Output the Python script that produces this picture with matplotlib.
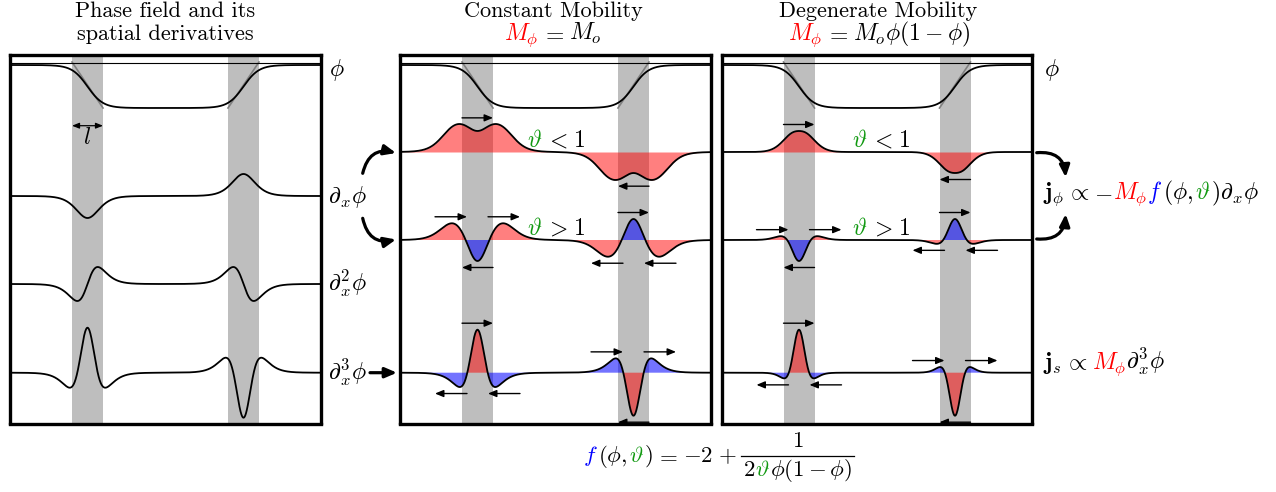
import numpy as np
import matplotlib
matplotlib.use('Agg')
import matplotlib.pyplot as plt
from matplotlib.patches import FancyArrowPatch

plt.rcParams['mathtext.fontset'] = 'cm'

# ---------------- data / model parameters ----------------
interface_centres = [77.5, 233.5]      # local panel units
half_width = 15.5                      # l/2
phi_levels = [53.0, 43.0]              # baseline of phi=0, height of phi=1
left_baselines = [141.0, 229.0, 317.7] # d_x phi, d_x^2 phi, d_x^3 phi
left_amps = [22.0, 17.0, 45.0]
flux_baselines = [97.0, 185.0, 317.7]  # theta<1, theta>1, j_s
flux_amps = [28.0, 21.0, 43.0]
theta_vals = [0.41, 1.55]
eps = 0.015
row_spans = [['band'], ['band', 'left', 'right'], ['band', 'left', 'right']]

W, H = 1276, 492
panel_x0 = [10.0, 400.0, 721.5]
panel_y0 = 55.0
PW, PH = 310.5, 368.5

RED, BLUE, GREEN = '#ff0000', '#0000ff', '#119911'
BAND = '#bebebe'
MS = 17  # math font size

fig = plt.figure(figsize=(W / 100, H / 100), dpi=100)

# ---------------- profiles ----------------
x = np.linspace(0, PW, 1500)
w = half_width
s1 = (x - interface_centres[0]) / w
s2 = (x - interface_centres[1]) / w
sech2 = lambda s: 1.0 / np.cosh(s) ** 2
phi = 1 - 0.5 * (1 + np.tanh(s1)) + 0.5 * (1 + np.tanh(s2))
d1 = (-sech2(s1) + sech2(s2)) / (2 * w)
d2 = (2 * sech2(s1) * np.tanh(s1) - 2 * sech2(s2) * np.tanh(s2)) / (2 * w ** 2)
d3 = (2 * sech2(s1) * (1 - 3 * np.tanh(s1) ** 2)
      - 2 * sech2(s2) * (1 - 3 * np.tanh(s2) ** 2)) / (2 * w ** 3)
pp = phi * (1 - phi)


def ffun(theta):
    return -2 + 1.0 / (2 * theta * (pp + eps))


const_flux = [-ffun(t) * d1 for t in theta_vals] + [d3]
scales = [a / np.abs(j).max() for a, j in zip(flux_amps, const_flux)]
mobility = [np.ones_like(x), 4 * pp]


def make_panel(x0):
    ax = fig.add_axes([x0 / W, 1 - (panel_y0 + PH) / H, PW / W, PH / H])
    ax.set_xlim(0, PW)
    ax.set_ylim(PH, 0)
    ax.set_xticks([])
    ax.set_yticks([])
    for sp in ax.spines.values():
        sp.set_linewidth(2.4)
        sp.set_zorder(6)
    for c in interface_centres:
        ax.axvspan(c - w, c + w, color=BAND, lw=0, zorder=0.5)
    ax.axhline(8.0, color='k', lw=0.8, zorder=3)
    y0, a = phi_levels
    ax.plot([interface_centres[0] - w, interface_centres[0] + w], [7.0, y0],
            color='#808080', lw=1.2, zorder=1)
    ax.plot([interface_centres[1] - w, interface_centres[1] + w], [y0, 7.0],
            color='#808080', lw=1.2, zorder=1)
    ax.plot(x, y0 - a * phi, color='k', lw=1.3, zorder=3)
    return ax


def small_arrow(ax, xa, xb, y):
    ax.annotate('', xy=(xb, y), xytext=(xa, y),
                arrowprops=dict(arrowstyle='-|>,head_length=0.36,head_width=0.15',
                                color='k', lw=1.0, shrinkA=0, shrinkB=0,
                                mutation_scale=14), zorder=4)


# left panel
axL = make_panel(panel_x0[0])
for base, amp, d in zip(left_baselines, left_amps, [d1, d2, d3]):
    axL.plot(x, base - amp * d / np.abs(d).max(), color='k', lw=1.3, zorder=3)
c0 = interface_centres[0]
axL.annotate('', xy=(c0 - w, 70.7), xytext=(c0 + w, 70.7),
             arrowprops=dict(arrowstyle='<|-|>,head_length=0.3,head_width=0.12',
                             color='k', lw=0.9, shrinkA=0, shrinkB=0,
                             mutation_scale=14))
axL.text(c0, 82, r'$l$', fontsize=MS, ha='center', va='center')

# flux panels
for pi in (1, 2):
    ax = make_panel(panel_x0[pi])
    M = mobility[pi - 1]
    for r in range(3):
        j = M * const_flux[r] * scales[r]
        base = flux_baselines[r]
        yc = base - j
        red = j * d1 < 0
        ax.fill_between(x, base, yc, where=red, interpolate=True,
                        color=RED, alpha=0.5, lw=0, zorder=2)
        ax.fill_between(x, base, yc, where=~red, interpolate=True,
                        color=BLUE, alpha=0.55, lw=0, zorder=2)
        ax.plot(x, yc, color='k', lw=1.3, zorder=3)
        for c in interface_centres:
            for kind in row_spans[r]:
                if kind == 'band':
                    xa, xb = c - w, c + w
                elif kind == 'left':
                    xa, xb = c - 42.5, c - 10.5
                else:
                    xa, xb = c + 10.5, c + 42.5
                jm = np.interp(0.5 * (xa + xb), x, j)
                sel = (x >= xa) & (x <= xb)
                if jm > 0:
                    small_arrow(ax, xa, xb, yc[sel].min() - 6.5)
                else:
                    small_arrow(ax, xb, xa, yc[sel].max() + 6.5)

# ---------------- overlay canvas for text / connectors ----------------
cv = fig.add_axes([0, 0, 1, 1])
cv.set_xlim(0, W)
cv.set_ylim(H, 0)
cv.axis('off')
cv.patch.set_visible(False)
renderer = fig.canvas.get_renderer()


def pieces(x0, y0, items, size=MS, ha='left', va='baseline'):
    # items: (mathtext, colour, gap after in px)
    cur = x0
    made = []
    for s, col, gap in items:
        t = cv.text(cur, y0, s, color=col, fontsize=size, ha='left', va=va)
        made.append(t)
        cur += t.get_window_extent(renderer).width + gap
    if ha == 'center':
        shift = (cur - x0) / 2
        for t in made:
            t.set_x(t.get_position()[0] - shift)
    return cur


tf = dict(fontsize=16, fontfamily='cmr10', ha='center', va='baseline')
cv.text(165, 17.3, 'Phase field and its', **tf)
cv.text(165, 40, 'spatial derivatives', **tf)
cv.text(553, 17.3, 'Constant Mobility', **tf)
cv.text(878, 17.3, 'Degenerate Mobility', **tf)
pieces(553, 40, [(r'$M_\phi$', RED, 2.5), (r'$=$', 'k', 5), (r'$M_o$', 'k', 0)],
       ha='center')
pieces(879, 40, [(r'$M_\phi$', RED, 2.5), (r'$=$', 'k', 5),
                 (r'$M_o\phi(1-\phi)$', 'k', 0)], ha='center')

# row labels
cv.text(329, 70, r'$\phi$', fontsize=MS, va='center')
cv.text(1044, 70, r'$\phi$', fontsize=MS, va='center')
cv.text(328, 197, r'$\partial_x\phi$', fontsize=MS, va='center')
cv.text(328, 283.5, r'$\partial_x^2\phi$', fontsize=MS, va='center')
cv.text(328, 372.5, r'$\partial_x^3\phi$', fontsize=MS, va='center')

for xs in (527, 852):
    pieces(xs, 147, [(r'$\vartheta$', GREEN, 3), (r'$<$', 'k', 5), (r'$1$', 'k', 0)])
    pieces(xs, 235, [(r'$\vartheta$', GREEN, 3), (r'$>$', 'k', 5), (r'$1$', 'k', 0)])

pieces(1043, 199, [(r'$\mathbf{j}_\phi$', 'k', 2), (r'$\propto$', 'k', 4),
                   (r'${-}$', 'k', 1), (r'$M_\phi$', RED, 0), (r'$f$', BLUE, 1),
                   (r'$(\phi,$', 'k', 2), (r'$\vartheta$', GREEN, 0),
                   (r'$)\partial_x\phi$', 'k', 0)])
pieces(1043, 369, [(r'$\mathbf{j}_s$', 'k', 2), (r'$\propto$', 'k', 5),
                   (r'$M_\phi$', RED, 0), (r'$\partial_x^3\phi$', 'k', 0)])

# bottom formula
BS = 16.5
xe = pieces(583, 462, [(r'$f$', BLUE, 0), (r'$(\phi,$', 'k', 2),
                       (r'$\vartheta$', GREEN, 0), (r'$)$', 'k', 2.5),
                       (r'$=$', 'k', 5), (r'${-}2$', 'k', 5), (r'$+$', 'k', 5)],
            size=BS)
bx0 = xe
bx1 = pieces(bx0 + 2, 476, [(r'$2$', 'k', 0), (r'$\vartheta$', GREEN, 0),
                             (r'$\phi(1-\phi)$', 'k', 0)], size=BS) + 2
cv.plot([bx0, bx1], [456, 456], color='k', lw=0.9)
pieces(0.5 * (bx0 + bx1), 447, [(r'$1$', 'k', 0)], size=BS, ha='center')

# connectors
big = dict(arrowstyle='-|>,head_length=0.35,head_width=0.15', color='k',
           lw=2.3, mutation_scale=20, shrinkA=0, shrinkB=0)
for p0, p1, rad in [((362.7, 173.3), (396, 153), -0.5),
                    ((362.7, 218.3), (396, 239.5), 0.5),
                    ((1036.7, 152.7), (1065.7, 177.3), -0.5),
                    ((1036.7, 239.0), (1065.7, 214.0), 0.5)]:
    cv.add_patch(FancyArrowPatch(p0, p1, connectionstyle=f'arc3,rad={rad}', **big))
cv.add_patch(FancyArrowPatch((370, 372.7), (397, 372.7), **big))

fig.savefig('out.png', dpi=100)
